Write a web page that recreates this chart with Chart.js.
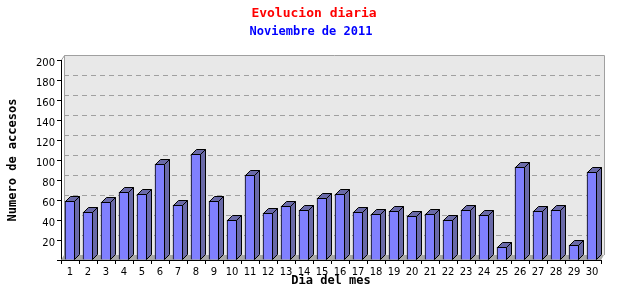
<!DOCTYPE html>
<html>
<head>
<meta charset="utf-8">
<script src="https://cdn.jsdelivr.net/npm/chart.js@4"></script>
<style>
  html, body { margin: 0; padding: 0; background: #fff; }
  #wrap { width: 640px; height: 300px; }
</style>
</head>
<body>
<div id="wrap"><canvas id="chart"></canvas></div>
<script>
// Dias del mes y accesos por dia
const dias = ['1','2','3','4','5','6','7','8','9','10','11','12','13','14','15',
              '16','17','18','19','20','21','22','23','24','25','26','27','28','29','30'];
const accesos = [59, 48, 58, 68, 66, 96, 55, 106, 59, 40, 85, 47, 54, 50, 62,
                 66, 48, 46, 49, 44, 46, 40, 50, 45, 13, 93, 49, 50, 15, 88];
const yTicks = [20, 40, 60, 80, 100, 120, 140, 160, 180, 200];

const DX = 5, DY = 5;      // 3d depth of bars
const PX = 3, PY = 5;      // depth of back plane

const plot3d = {
    id: 'plot3d',
    beforeDatasetsDraw(chart) {
        const { ctx, chartArea: a, scales: { y } } = chart;
        ctx.save();
        // back plane
        ctx.fillStyle = '#e8e8e8';
        ctx.fillRect(a.left + PX, a.top - PY, a.right - a.left, a.bottom - a.top);
        // dashed grid on the back plane
        ctx.strokeStyle = '#a0a0a0';
        ctx.lineWidth = 1;
        ctx.setLineDash([5, 4]);
        yTicks.slice(0, -1).forEach(v => {
            const py = Math.round(y.getPixelForValue(v) - PY) + 0.5;
            ctx.beginPath();
            ctx.moveTo(a.left + PX, py);
            ctx.lineTo(a.right + PX, py);
            ctx.stroke();
        });
        ctx.setLineDash([]);
        // frame of back plane
        ctx.strokeStyle = '#a0a0a0';
        ctx.beginPath();
        ctx.moveTo(a.left + PX + 0.5, a.bottom - PY);
        ctx.lineTo(a.left + PX + 0.5, a.top - PY + 0.5);
        ctx.lineTo(a.right + PX + 0.5, a.top - PY + 0.5);
        ctx.lineTo(a.right + PX + 0.5, a.bottom - PY);
        ctx.moveTo(a.left + 0.5, a.top);
        ctx.lineTo(a.left + PX + 0.5, a.top - PY + 0.5);
        ctx.stroke();
        // floor
        ctx.fillStyle = '#a8a8a8';
        ctx.beginPath();
        ctx.moveTo(a.left, a.bottom);
        ctx.lineTo(a.right, a.bottom);
        ctx.lineTo(a.right + PX, a.bottom - PY);
        ctx.lineTo(a.left + PX, a.bottom - PY);
        ctx.closePath();
        ctx.fill();
        ctx.restore();
    },
    afterDatasetsDraw(chart) {
        const { ctx } = chart;
        const meta = chart.getDatasetMeta(0);
        ctx.save();
        ctx.strokeStyle = '#000';
        ctx.lineWidth = 1;
        meta.data.forEach(bar => {
            const l = Math.round(bar.x - bar.width / 2) + 0.5;
            const r = Math.round(bar.x + bar.width / 2) - 0.5;
            const t = Math.round(bar.y) + 0.5;
            const b = Math.round(bar.base) - 0.5;
            // side
            ctx.fillStyle = '#6a6aa8';
            ctx.beginPath();
            ctx.moveTo(r, t);
            ctx.lineTo(r + DX, t - DY);
            ctx.lineTo(r + DX, b - DY);
            ctx.lineTo(r, b);
            ctx.closePath();
            ctx.fill();
            ctx.stroke();
            // top
            ctx.fillStyle = '#6a6aa8';
            ctx.beginPath();
            ctx.moveTo(l, t);
            ctx.lineTo(l + DX, t - DY);
            ctx.lineTo(r + DX, t - DY);
            ctx.lineTo(r, t);
            ctx.closePath();
            ctx.fill();
            ctx.stroke();
        });
        ctx.restore();
    },
    afterDraw(chart) {
        const { ctx } = chart;
        ctx.save();
        ctx.textAlign = 'center';
        ctx.textBaseline = 'middle';
        ctx.font = 'bold 13px "DejaVu Sans Mono"';
        ctx.fillStyle = '#ff0000';
        ctx.fillText('Evolucion diaria', 314, 14);
        ctx.font = 'bold 12px "DejaVu Sans Mono"';
        ctx.fillStyle = '#0000ff';
        ctx.fillText('Noviembre de 2011', 311, 32);
        ctx.restore();
    }
};

new Chart(document.getElementById('chart'), {
    type: 'bar',
    data: {
        labels: dias,
        datasets: [{
            label: 'Accesos',
            data: accesos,
            backgroundColor: '#8080ff',
            borderColor: '#000',
            borderWidth: 1,
            barThickness: 10
        }]
    },
    options: {
        responsive: true,
        maintainAspectRatio: false,
        animation: false,
        layout: { padding: { top: 60, right: 39, left: 0, bottom: 0 } },
        plugins: {
            legend: { display: false },
            tooltip: { enabled: false }
        },
        scales: {
            x: {
                grid: { display: true, drawOnChartArea: false, offset: true, tickLength: 4, color: '#000' },
                border: { display: true, color: '#000' },
                ticks: { color: '#000', padding: 2, maxRotation: 0, autoSkip: false,
                         font: { family: 'DejaVu Sans', size: 10 } },
                title: { display: true, text: 'Dia del mes', color: '#000',
                         padding: { top: 0, bottom: 12 },
                         font: { family: 'DejaVu Sans Mono', size: 12, weight: 'bold' } },
                afterFit(scale) { scale.height = 40; }
            },
            y: {
                min: 0,
                max: 200,
                grid: { display: true, drawOnChartArea: false, tickLength: 4, color: '#000' },
                border: { display: true, color: '#000' },
                ticks: { stepSize: 20, color: '#000', padding: 2, labelOffset: 3,
                         font: { family: 'DejaVu Sans', size: 10 },
                         callback: v => yTicks.includes(v) ? String(v) : '' },
                title: { display: true, text: 'Numero de accesos', color: '#000',
                         padding: { top: 6, bottom: 0 },
                         font: { family: 'DejaVu Sans Mono', size: 12, weight: 'bold' } },
                afterFit(scale) { scale.width = 61; }
            }
        }
    },
    plugins: [plot3d]
});
</script>
</body>
</html>
